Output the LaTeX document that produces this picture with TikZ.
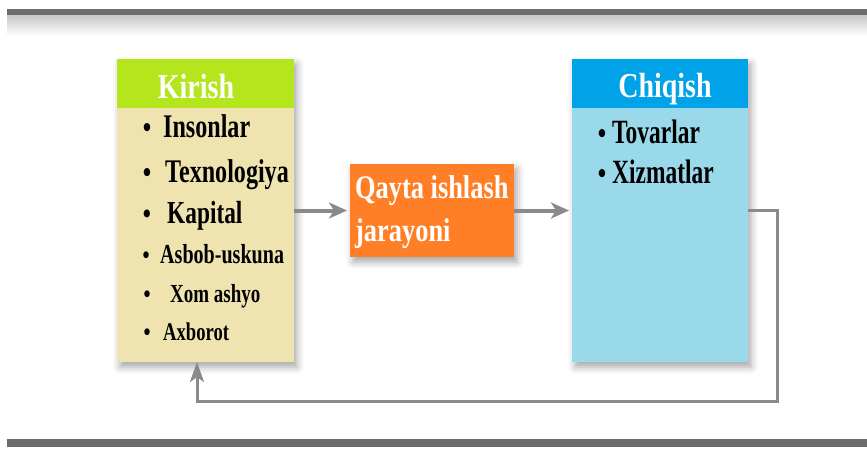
\documentclass[tikz,border=0pt]{standalone}
\usepackage{fontspec}
\setmainfont[FakeStretch=0.8]{Liberation Serif}
\newfontfamily\narrowfont[FakeStretch=0.73]{Liberation Serif}
\newfontfamily\narrowerfont[FakeStretch=0.69]{Liberation Serif}
\usetikzlibrary{arrows.meta,shadows.blur}

\definecolor{kgreen}{HTML}{B5E61D}
\definecolor{kbeige}{HTML}{EFE4B0}
\definecolor{porange}{HTML}{FF7F27}
\definecolor{cblue}{HTML}{00A2E8}
\definecolor{clight}{HTML}{99D9EA}
\definecolor{linegray}{HTML}{6C6C6C}
\definecolor{arrgray}{HTML}{8A8A8A}

\tikzset{
  panel/.style={rectangle, inner sep=0pt, outer sep=0pt, anchor=north west},
  shadowed/.style={blur shadow={shadow xshift=3pt, shadow yshift=-5pt,
      shadow blur radius=7pt, shadow opacity=35}},
  hdr/.style={font=\bfseries\fontsize{35}{35}\selectfont, text=white, anchor=base, inner sep=0pt},
  item/.style={font=\narrowfont\bfseries\fontsize{#1}{#1}\selectfont, anchor=base west, inner sep=0pt},
  citem/.style={font=\narrowerfont\bfseries\fontsize{#1}{#1}\selectfont, anchor=base west, inner sep=0pt},
  dot/.style={font=\bfseries\fontsize{#1}{#1}\selectfont, anchor=base, inner sep=0pt},
  proc/.style={font=\bfseries\fontsize{33}{33}\selectfont, text=white, anchor=base west, inner sep=0pt},
  arr/.style={draw=arrgray, line width=4pt,
      -{Stealth[length=18pt, width=16pt, inset=5pt]}},
  back/.style={draw=arrgray, line width=3pt,
      -{Stealth[length=20pt, width=14pt, inset=5pt]}},
}

\begin{document}
\begin{tikzpicture}[x=1pt, y=-1pt]
  \useasboundingbox (0,0) rectangle (867,448);

  % frame rules
  \shade[top color=black!22, bottom color=white] (7,15) rectangle (867,36);
  \fill[linegray] (7,9) rectangle (867,15);
  \fill[linegray] (7,439) rectangle (867,447);

  % input panel
  \node[panel, shadowed, fill=kbeige, minimum width=177pt, minimum height=303pt] (kbox) at (117,59) {};
  \node[panel, fill=kgreen, minimum width=177pt, minimum height=49pt] (khead) at (117,59) {};
  \node[hdr] (ktitle) at (196,98) {Kirish};

  \node[dot=30] (b1) at (147,137) {•};
  \node[item=33] (i1) at (163,137) {Insonlar};
  \node[dot=30] (b2) at (147,182) {•};
  \node[item=33] (i2) at (165,182) {Texnologiya};
  \node[dot=29] (b3) at (147,223) {•};
  \node[item=32] (i3) at (167,223) {Kapital};
  \node[dot=25] (b4) at (146,263) {•};
  \node[item=27.5] (i4) at (160,263) {Asbob-uskuna};
  \node[dot=25] (b5) at (147,302) {•};
  \node[item=26] (i5) at (170,302) {Xom ashyo};
  \node[dot=25] (b6) at (147,340) {•};
  \node[item=25.5] (i6) at (163,340) {Axborot};

  % process block
  \node[panel, shadowed, fill=porange, minimum width=164pt, minimum height=93pt] (pbox) at (350,164) {};
  \node[proc] (p1) at (355,198) {Qayta ishlash};
  \node[proc] (p2) at (355,241) {jarayoni};

  % output panel
  \node[panel, shadowed, fill=clight, minimum width=176pt, minimum height=303pt] (cbox) at (572,59) {};
  \node[panel, fill=cblue, minimum width=176pt, minimum height=49pt] (chead) at (572,59) {};
  \node[hdr] (ctitle) at (665,97) {Chiqish};

  \node[dot=30] (c1b) at (602,143) {•};
  \node[citem=34] (c1) at (612,143) {Tovarlar};
  \node[dot=30] (c2b) at (602,183) {•};
  \node[citem=34] (c2) at (612,183) {Xizmatlar};

  % flow connectors
  \coordinate (fbr) at (777,401);
  \coordinate (fbl) at (197,401);
  \draw[arr, shorten >=3pt] (kbox.east |- pbox.west) -- (pbox.west);
  \draw[arr, shorten >=3pt] (pbox.east) -- (cbox.west |- pbox.east);
  \draw[back] (cbox.east |- pbox.east) -| (fbr) -- (fbl) -- (fbl |- kbox.south);
\end{tikzpicture}
\end{document}
